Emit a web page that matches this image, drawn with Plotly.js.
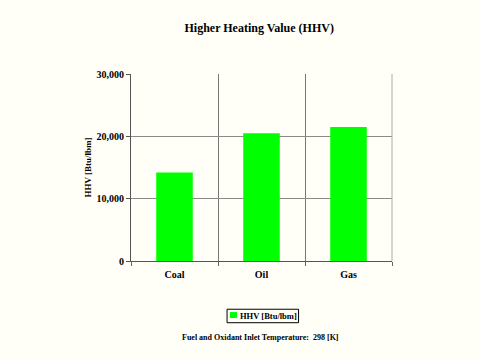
<!DOCTYPE html>
<html>
<head>
<meta charset="utf-8">
<script src="https://cdn.plot.ly/plotly-3.0.1.min.js"></script>
<style>html,body{margin:0;padding:0;background:#fffff8;}#chart{width:480px;height:360px;}</style>
</head>
<body>
<div id="chart"></div>
<script>
const categories = ["Coal", "Oil", "Gas"];
const hhvValues = [14200, 20500, 21500];
const seriesName = "HHV [Btu/lbm]";
const yTickVals = [0, 10000, 20000, 30000];
const yTickText = ["0", "10,000", "20,000", "30,000"];

const serif = "Liberation Serif, Times New Roman, serif";
const barColor = "#00ff00";

const trace = {
  type: "bar",
  x: categories,
  y: hhvValues,
  name: seriesName,
  marker: {color: barColor},
  showlegend: false
};

const layout = {
  width: 480, height: 360,
  paper_bgcolor: "#fffff8",
  plot_bgcolor: "#fffff8",
  margin: {l: 131, r: 88, t: 74, b: 99},
  title: {text: "<b>Higher Heating Value (HHV)</b>", x: 0.54, xanchor: "center", y: 0.922, yanchor: "middle",
          font: {family: serif, size: 12, color: "#000"}},
  bargap: 0.58,
  xaxis: {
    type: "category",
    tickson: "boundaries",
    ticks: "outside", ticklen: 4, tickcolor: "#666",
    ticklabelstandoff: 4,
    showgrid: true, gridcolor: "#777", gridwidth: 1,
    showline: true, linecolor: "#555", linewidth: 1,
    tickfont: {family: serif, size: 10, color: "#000"},
    tickprefix: "<b>", ticksuffix: "</b>"
  },
  yaxis: {
    range: [0, 30000],
    tickvals: yTickVals,
    ticktext: yTickText.map(t => "<b>" + t + "</b>"),
    ticks: "outside", ticklen: 4, tickcolor: "#555",
    showgrid: true, gridcolor: "#8a8a8a", gridwidth: 1,
    showline: true, linecolor: "#555", linewidth: 1,
    zeroline: false,
    tickfont: {family: serif, size: 10, color: "#000"},
    title: {text: "<b>HHV [Btu/lbm]</b>", font: {family: serif, size: 9, color: "#000"}, standoff: 3}
  },
  shapes: [
    {type: "line", xref: "paper", yref: "paper", x0: 1, x1: 1, y0: 0, y1: 1, line: {color: "#aaa", width: 1}},
    // legend box
    {type: "rect", xref: "paper", yref: "paper", x0: 0.368, x1: 0.642, y0: -0.258, y1: -0.330,
     line: {color: "#000", width: 1}, fillcolor: "#fffff8"},
    // legend swatch
    {type: "rect", xref: "paper", yref: "paper", x0: 0.379, x1: 0.406, y0: -0.273, y1: -0.305,
     line: {width: 0}, fillcolor: barColor}
  ],
  annotations: [
    {text: "<b>" + seriesName + "</b>", xref: "paper", yref: "paper",
     x: 0.410, y: -0.293, xanchor: "left", yanchor: "middle", showarrow: false,
     font: {family: serif, size: 8.5, color: "#000"}},
    {text: "<b>Fuel and Oxidant Inlet Temperature:  298 [K]</b>", xref: "paper", yref: "paper",
     x: 0.495, y: -0.41, xanchor: "center", yanchor: "middle", showarrow: false,
     font: {family: serif, size: 8, color: "#000"}}
  ]
};

Plotly.newPlot("chart", [trace], layout, {displayModeBar: false, staticPlot: true});
</script>
</body>
</html>
